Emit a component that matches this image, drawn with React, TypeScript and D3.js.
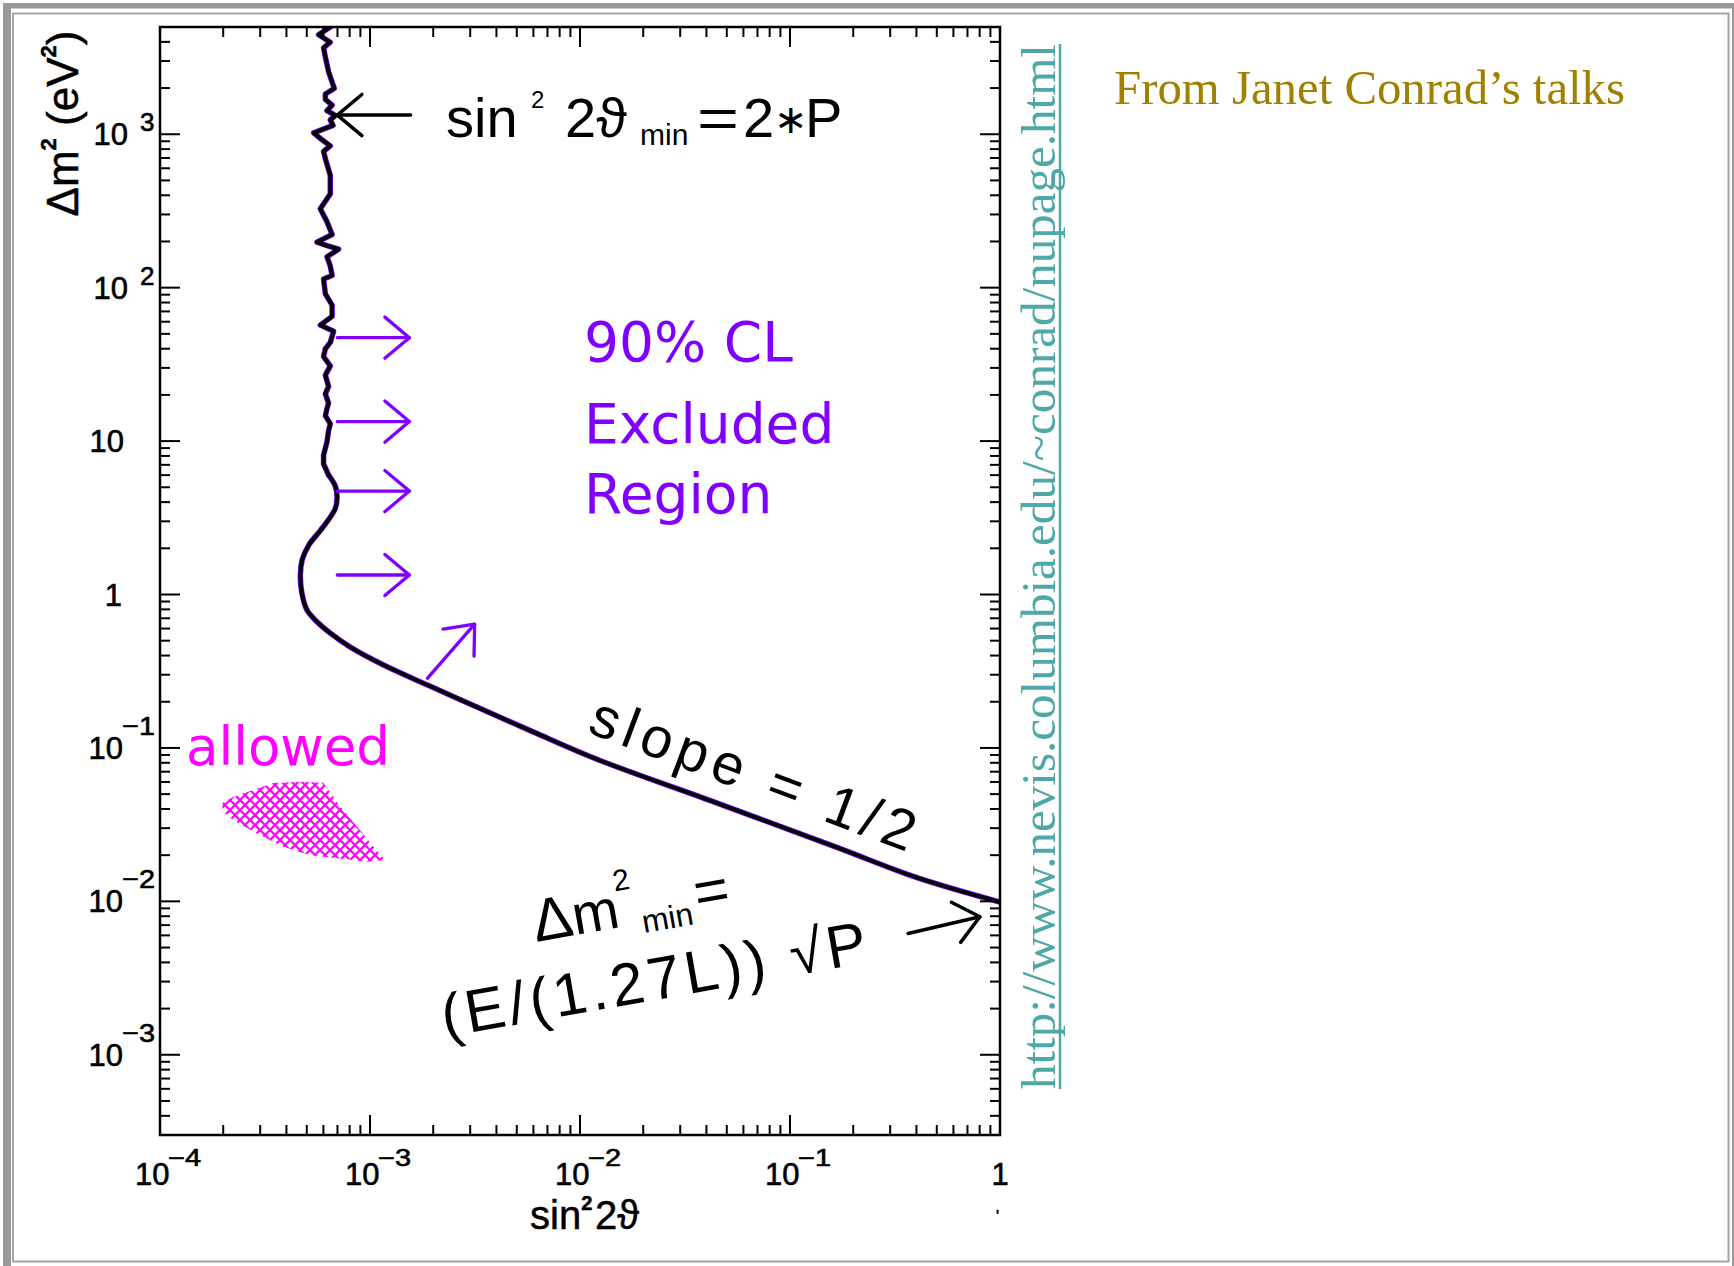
import React from "react";
import * as d3 from "d3";

// exclusion contour: [sin^2 2theta, dm^2 (eV^2)]
// upper, jagged part (drawn straight between points)
const contourJagged: [number, number][] = [
  [6.47e-4, 5000], [5.69e-4, 4450], [6.47e-4, 3980], [6.01e-4, 3660], [6.13e-4, 3190],
  [6.35e-4, 2550], [6.76e-4, 1990], [6.13e-4, 1830], [6.13e-4, 1685], [6.6e-4, 1550],
  [6.24e-4, 1425], [6.84e-4, 1327], [6.47e-4, 1240], [6.67e-4, 1142], [5.39e-4, 1021],
  [5.8e-4, 939], [6.47e-4, 840], [6.01e-4, 774], [6.13e-4, 693], [6.47e-4, 539],
  [6.47e-4, 408], [5.8e-4, 327], [6.24e-4, 269], [6.6e-4, 222], [5.59e-4, 198],
  [6.24e-4, 188], [7.09e-4, 178], [6.24e-4, 159], [6.47e-4, 138], [6.6e-4, 120],
  [6.01e-4, 114], [6.13e-4, 91], [6.6e-4, 77], [6.6e-4, 65], [5.8e-4, 57],
  [6.71e-4, 52], [6.47e-4, 44], [6.13e-4, 40], [6.01e-4, 35.5], [6.47e-4, 30.9],
  [6.13e-4, 26.9], [6.35e-4, 22.7], [6.13e-4, 20.3], [6.35e-4, 17.7], [6.24e-4, 16.3],
  [6.13e-4, 14.6], [6.47e-4, 13.0], [6.35e-4, 11.7], [6.24e-4, 9.9], [6.01e-4, 8.1],
  [6.01e-4, 7.1], [6.35e-4, 6.0],
];
// lower, smooth part: the bend and the slope 1/2 tail
const contourBend: [number, number][] = [
  [6.35e-4, 6.0], [6.84e-4, 5.08], [6.97e-4, 4.3], [6.84e-4, 3.64], [6.35e-4, 3.08],
  [5.8e-4, 2.61], [5.1e-4, 2.09], [4.75e-4, 1.67], [4.66e-4, 1.34], [4.74e-4, 1.02],
  [5.01e-4, 0.792], [5.59e-4, 0.664], [6.47e-4, 0.56], [8.06e-4, 0.454], [1.16e-3, 0.347],
  [1.88e-3, 0.257], [3.48e-3, 0.1765], [6.02e-3, 0.1268], [1.23e-2, 0.0834], [4.5e-2, 0.0437],
  [0.166, 0.02257], [0.396, 0.01439], [1.0, 0.0099],
];
// hatched "allowed" blob
const allowedRegion: [number, number][] = [
  [1.97e-4, 0.0435], [2.23e-4, 0.0478], [2.78e-4, 0.0531], [3.46e-4, 0.059], [4.66e-4, 0.0601],
  [5.99e-4, 0.0593], [7.22e-4, 0.0413], [8.68e-4, 0.0306], [1.04e-3, 0.0227], [1.18e-3, 0.0186],
  [9.68e-4, 0.0181], [7.22e-4, 0.019], [5.2e-4, 0.02], [3.88e-4, 0.0227], [2.89e-4, 0.0277],
  [2.24e-4, 0.0338], [2.0e-4, 0.0384],
];

const xDomain = [1e-4, 1];
const yDomain = [3e-4, 5000];
const xMajorExp = [-4, -3, -2, -1, 0];
const yMajorExp = [-3, -2, -1, 0, 1, 2, 3];

// "excluded" arrows: rows in dm^2, from / to in sin^2 2theta
const arrowRows = [47.2, 13.4, 4.72, 1.34];
const arrowFrom = 6.99e-4;
const arrowTo = 1.54e-3;
const diagArrow = [[1.88e-3, 0.285], [3.15e-3, 0.641]];
const sinArrow = [[1.56e-3, 1334], [6.99e-4, 1334]];
const dmArrow = [[0.365, 6.18e-3], [0.802, 7.93e-3]];

const SANS = "'Liberation Sans', Arial, Helvetica, sans-serif";
const ROUND = "'DejaVu Sans', Verdana, sans-serif";
const SERIF = "'Liberation Serif', 'Times New Roman', serif";
const PURPLE = "#8000ff";
const MAGENTA = "#ff00ff";

function Arrow({ p1, p2, color, width }: { p1: number[]; p2: number[]; color: string; width: number }) {
  const ang = Math.atan2(p2[1] - p1[1], p2[0] - p1[0]);
  const L = 32, a = (40 * Math.PI) / 180;
  const h1 = [p2[0] - L * Math.cos(ang - a), p2[1] - L * Math.sin(ang - a)];
  const h2 = [p2[0] - L * Math.cos(ang + a), p2[1] - L * Math.sin(ang + a)];
  return (
    <g stroke={color} strokeWidth={width} fill="none" strokeLinecap="round" strokeLinejoin="round">
      <line x1={p1[0]} y1={p1[1]} x2={p2[0]} y2={p2[1]} />
      <polyline points={`${h1[0]},${h1[1]} ${p2[0]},${p2[1]} ${h2[0]},${h2[1]}`} />
    </g>
  );
}

export default function App() {
  const W = 1734, H = 1266;
  const x = d3.scaleLog().domain(xDomain).range([160, 1000]);
  const y = d3.scaleLog().domain(yDomain).range([1135, 27]);
  const [xl, xr] = x.range();
  const [yb, yt] = y.range();

  const isMajor = (v: number) => Math.abs(Math.log10(v) - Math.round(Math.log10(v))) < 1e-6;
  const xTicks = x.ticks().filter((v) => x(v) > xl + 0.5 && x(v) < xr - 0.5);
  const yTicks = y.ticks().filter((v) => y(v) < yb - 0.5 && y(v) > yt + 0.5);

  const lineLin = d3.line<[number, number]>().x((d) => x(d[0])).y((d) => y(d[1]));
  const lineSmooth = d3
    .line<[number, number]>()
    .x((d) => x(d[0]))
    .y((d) => y(d[1]))
    .curve(d3.curveCatmullRom.alpha(0.5));
  const blob = d3
    .line<[number, number]>()
    .x((d) => x(d[0]))
    .y((d) => y(d[1]))
    .curve(d3.curveLinearClosed);

  const pt = (d: number[]) => [x(d[0]), y(d[1])];

  return (
    <svg
      width={W}
      height={H}
      style={{ position: "absolute", left: 0, top: 0, display: "block", background: "#fff" }}
    >
      <defs>
        <clipPath id="plotClip">
          <rect x={xl} y={yt} width={xr - xl} height={yb - yt} />
        </clipPath>
        <pattern id="hatch" width={10} height={10} patternUnits="userSpaceOnUse">
          <line x1={0} y1={0} x2={10} y2={10} stroke={MAGENTA} strokeWidth={2.2} />
          <line x1={0} y1={10} x2={10} y2={0} stroke={MAGENTA} strokeWidth={2.2} />
          <line x1={-1} y1={9} x2={1} y2={11} stroke={MAGENTA} strokeWidth={2.2} />
          <line x1={9} y1={-1} x2={11} y2={1} stroke={MAGENTA} strokeWidth={2.2} />
          <line x1={-1} y1={1} x2={1} y2={-1} stroke={MAGENTA} strokeWidth={2.2} />
          <line x1={9} y1={11} x2={11} y2={9} stroke={MAGENTA} strokeWidth={2.2} />
        </pattern>
      </defs>

      {/* page frame */}
      <rect x={0} y={0} width={W} height={H} fill="#fff" />
      <rect x={3} y={3} width={8} height={H - 3} fill="#9a9a9a" />
      <rect x={3} y={3} width={W - 3} height={5.5} fill="#9a9a9a" />
      <rect x={1732} y={3} width={2} height={H - 3} fill="#9a9a9a" />
      <rect x={13} y={13.5} width={1715.5} height={1248} fill="none" stroke="#a4a4a4" strokeWidth={2} />

      {/* allowed region */}
      <path d={blob(allowedRegion) || ""} fill="url(#hatch)" />

      {/* contour */}
      <g clipPath="url(#plotClip)" fill="none" strokeLinejoin="round" strokeLinecap="round">
        <path d={lineLin(contourJagged) || ""} stroke={PURPLE} strokeWidth={5.5} />
        <path d={lineSmooth(contourBend) || ""} stroke={PURPLE} strokeWidth={5.5} />
        <path d={lineLin(contourJagged) || ""} stroke="#000" strokeWidth={4} />
        <path d={lineSmooth(contourBend) || ""} stroke="#000" strokeWidth={4} />
      </g>

      {/* frame and ticks */}
      <rect x={xl} y={yt} width={xr - xl} height={yb - yt} fill="none" stroke="#000" strokeWidth={2.5} />
      <g stroke="#000" strokeWidth={2}>
        {xTicks.map((v, i) => {
          const len = isMajor(v) ? 20 : 10;
          return (
            <g key={"xt" + i}>
              <line x1={x(v)} x2={x(v)} y1={yb} y2={yb - len} />
              <line x1={x(v)} x2={x(v)} y1={yt} y2={yt + len} />
            </g>
          );
        })}
        {yTicks.map((v, i) => {
          const len = isMajor(v) ? 20 : 10;
          return (
            <g key={"yt" + i}>
              <line x1={xl} x2={xl + len} y1={y(v)} y2={y(v)} />
              <line x1={xr} x2={xr - len} y1={y(v)} y2={y(v)} />
            </g>
          );
        })}
      </g>

      {/* y tick labels */}
      <g fontFamily={SANS} fill="#000" stroke="#000" strokeWidth={0.6}>
        {yMajorExp.map((e) => {
          const ty = y(Math.pow(10, e));
          if (e === 0)
            return (
              <text key={"yl" + e} x={122} y={ty + 11} fontSize={31} textAnchor="end">1</text>
            );
          if (e === 1)
            return (
              <text key={"yl" + e} x={124} y={ty + 11} fontSize={31} textAnchor="end">10</text>
            );
          if (e > 1)
            return (
              <g key={"yl" + e}>
                <text x={128} y={ty + 11} fontSize={31} textAnchor="end">10</text>
                <text x={140} y={ty - 3} fontSize={26}>{String(e)}</text>
              </g>
            );
          return (
            <g key={"yl" + e}>
              <text x={123} y={ty + 11} fontSize={31} textAnchor="end">10</text>
              <text x={122} y={ty - 13} fontSize={26} textLength={33} lengthAdjust="spacingAndGlyphs">
                {"\u2212" + String(-e)}
              </text>
            </g>
          );
        })}
      </g>

      {/* x tick labels */}
      <g fontFamily={SANS} fill="#000" stroke="#000" strokeWidth={0.6}>
        {xMajorExp.map((e) => {
          const tx = x(Math.pow(10, e));
          if (e === 0)
            return (
              <text key={"xl" + e} x={tx} y={1185} fontSize={31} textAnchor="middle">1</text>
            );
          return (
            <g key={"xl" + e}>
              <text x={tx + 9.5} y={1185} fontSize={31} textAnchor="end">10</text>
              <text x={tx + 8} y={1166} fontSize={23} textLength={33} lengthAdjust="spacingAndGlyphs">
                {"\u2212" + String(-e)}
              </text>
            </g>
          );
        })}
        <text x={996} y={1222} fontSize={16}>'</text>
      </g>

      {/* axis titles */}
      <text x={530} y={1229} fontFamily={SANS} fontSize={40} fill="#000" stroke="#000" strokeWidth={0.5}>
        sin
        <tspan fontSize={20} fontWeight="bold" dy={-19}>2</tspan>
        <tspan x={595} dy={19}>2ϑ</tspan>
      </text>
      <text
        transform="translate(78,123.5) rotate(-90)"
        fontFamily={SANS}
        fontSize={44}
        fill="#000"
        stroke="#000"
        strokeWidth={0.5}
        textAnchor="middle"
      >
        Δm
        <tspan fontSize={22} fontWeight="bold" dy={-22}>2</tspan>
        <tspan dy={22}> (eV</tspan>
        <tspan fontSize={22} fontWeight="bold" dy={-22}>2</tspan>
        <tspan dy={22}>)</tspan>
      </text>

      {/* annotations */}
      <Arrow p1={pt(sinArrow[0])} p2={pt(sinArrow[1])} color="#000" width={3.5} />
      <text fontFamily={SANS} fontSize={56} fill="#000" y={137}>
        <tspan x={446}>sin</tspan>
        <tspan x={531} y={108} fontSize={24}>2</tspan>
        <tspan x={565} y={137}>2ϑ</tspan>
        <tspan x={640} y={145} fontSize={30}>min</tspan>
        <tspan x={697} y={137} textLength={42} lengthAdjust="spacingAndGlyphs">=</tspan>
        <tspan x={743} y={137}>2</tspan>
        <tspan x={774} y={133} fontSize={40}>∗</tspan>
        <tspan x={805} y={137}>P</tspan>
      </text>

      {arrowRows.map((m, i) => (
        <Arrow key={"pa" + i} p1={[x(arrowFrom), y(m)]} p2={[x(arrowTo), y(m)]} color={PURPLE} width={3.3} />
      ))}
      <Arrow p1={pt(diagArrow[0])} p2={pt(diagArrow[1])} color={PURPLE} width={3.3} />

      <g fontFamily={ROUND} fontSize={55} fill={PURPLE}>
        <text x={584} y={361}>90% CL</text>
        <text x={584} y={443}>Excluded</text>
        <text x={584} y={513}>Region</text>
      </g>

      <text x={186} y={765} fontFamily={ROUND} fontSize={53} fill={MAGENTA}>allowed</text>

      <text
        transform="translate(586,732) rotate(20.5)"
        fontFamily={SANS}
        fontSize={57}
        fill="#000"
        textLength={343}
        lengthAdjust="spacing"
      >
        slope = 1/2
      </text>

      <g transform="translate(536,942) rotate(-10)" fontFamily={SANS} fill="#000">
        <text fontSize={60}>
          <tspan x={0} y={0}>Δ</tspan>
          <tspan x={40} y={0} fontSize={56}>m</tspan>
          <tspan x={86} y={-36} fontSize={30}>2</tspan>
          <tspan x={108} y={10} fontSize={32}>min</tspan>
          <tspan x={164} y={0}>=</tspan>
        </text>
      </g>
      <text
        transform="translate(445,1037) rotate(-10)"
        fontFamily={SANS}
        fontSize={60}
        fill="#000"
        textLength={431}
        lengthAdjust="spacing"
      >
        (E/(1.27L)) √P
      </text>
      <Arrow p1={pt(dmArrow[0])} p2={pt(dmArrow[1])} color="#000" width={3.5} />

      {/* side texts */}
      <text
        transform="translate(1055,1089) rotate(-90)"
        fontFamily={SERIF}
        fontSize={48}
        fill="#4fa8a8"
        textLength={1045}
        lengthAdjust="spacingAndGlyphs"
      >
        http://www.nevis.columbia.edu/~conrad/nupage.html
      </text>
      <line x1={1060} x2={1060} y1={44} y2={1089} stroke="#4fa8a8" strokeWidth={2.5} />
      <text
        x={1114}
        y={104}
        fontFamily={SERIF}
        fontSize={48}
        fill="#a08000"
        textLength={511}
        lengthAdjust="spacingAndGlyphs"
      >
        From Janet Conrad’s talks
      </text>
    </svg>
  );
}
